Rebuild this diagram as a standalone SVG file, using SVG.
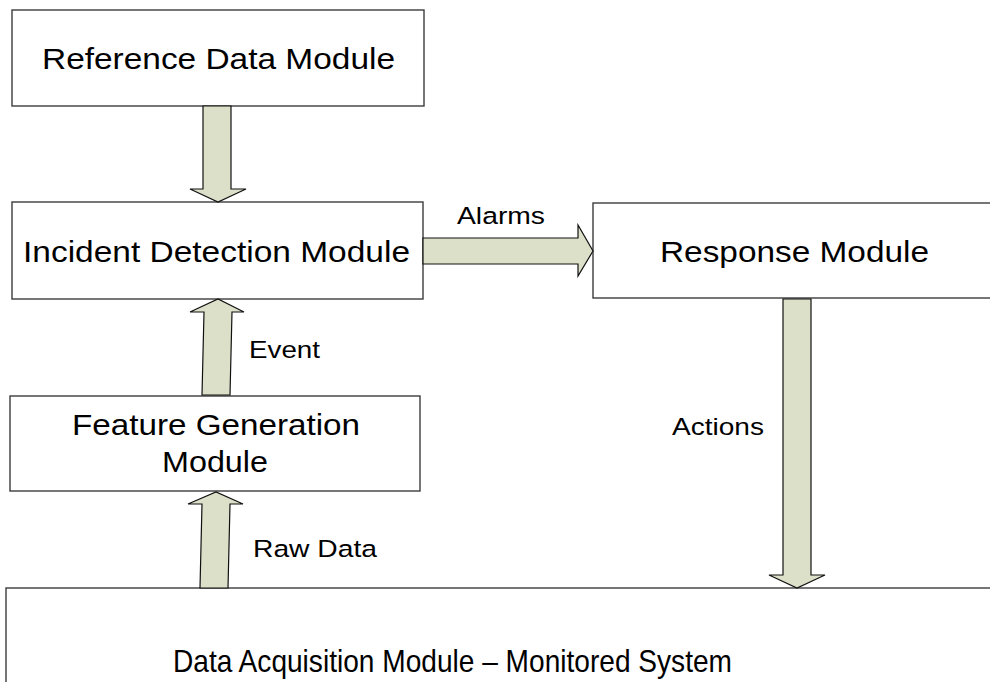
<svg xmlns="http://www.w3.org/2000/svg" width="990" height="682" viewBox="0 0 990 682">
  <style>
    .box { fill: #ffffff; stroke: #3c3c3c; stroke-width: 1.4; }
    .arrow { fill: #dde0c9; stroke: #111111; stroke-width: 1.2; stroke-linejoin: miter; }
    .big { font-family: "Liberation Sans", Arial, sans-serif; font-size: 30px; fill: #000000; }
    .wide { font-family: "Liberation Sans", Arial, sans-serif; font-size: 32px; fill: #000000; }
    .lbl { font-family: "Liberation Sans", Arial, sans-serif; font-size: 24.5px; fill: #000000; }
  </style>
  <rect width="990" height="682" fill="#ffffff"/>

  <g id="node-reference">
    <rect class="box" x="12" y="10" width="412" height="96"/>
    <text class="big" x="42" y="69" textLength="353" lengthAdjust="spacingAndGlyphs">Reference Data Module</text>
  </g>

  <g id="node-incident">
    <rect class="box" x="12" y="202" width="411" height="97"/>
    <text class="big" x="23" y="262" textLength="387" lengthAdjust="spacingAndGlyphs">Incident Detection Module</text>
  </g>

  <g id="node-response">
    <rect class="box" x="593" y="203" width="410" height="95"/>
    <text class="big" x="660" y="262" textLength="269" lengthAdjust="spacingAndGlyphs">Response Module</text>
  </g>

  <g id="node-feature">
    <rect class="box" x="10" y="396" width="410" height="95"/>
    <text class="big" x="72" y="435" textLength="288" lengthAdjust="spacingAndGlyphs">Feature Generation</text>
    <text class="big" x="162" y="472" textLength="106" lengthAdjust="spacingAndGlyphs">Module</text>
  </g>

  <g id="node-acquisition">
    <rect class="box" x="6" y="588" width="1000" height="120"/>
    <text class="wide" x="173" y="672" textLength="559" lengthAdjust="spacingAndGlyphs">Data Acquisition Module – Monitored System</text>
  </g>

  <g id="connectors">
    <!-- Reference Data -> Incident Detection -->
    <polygon class="arrow" points="203,106 231,106 231,189 246,189 218,202 190,189 203,189"/>
    <!-- Incident Detection -> Response (Alarms) -->
    <polygon class="arrow" points="423,238 578,238 578,225 593,251 578,276 578,264 423,264"/>
    <!-- Feature Generation -> Incident Detection (Event) -->
    <polygon class="arrow" points="202,395 230,395 232,312 244,312 218,299 190,312 204,312"/>
    <!-- Data Acquisition -> Feature Generation (Raw Data) -->
    <polygon class="arrow" points="200,588 228,588 230,504 243,504 216,492 188,504 202,504"/>
    <!-- Response -> Data Acquisition (Actions) -->
    <polygon class="arrow" points="783,299 811,299 811,575 825,575 797,588 769,575 783,575"/>

    <text class="lbl" x="457" y="224" textLength="88" lengthAdjust="spacingAndGlyphs">Alarms</text>
    <text class="lbl" x="249" y="358" textLength="71" lengthAdjust="spacingAndGlyphs">Event</text>
    <text class="lbl" x="253" y="557" textLength="124" lengthAdjust="spacingAndGlyphs">Raw Data</text>
    <text class="lbl" x="672" y="435" textLength="92" lengthAdjust="spacingAndGlyphs">Actions</text>
  </g>
</svg>
